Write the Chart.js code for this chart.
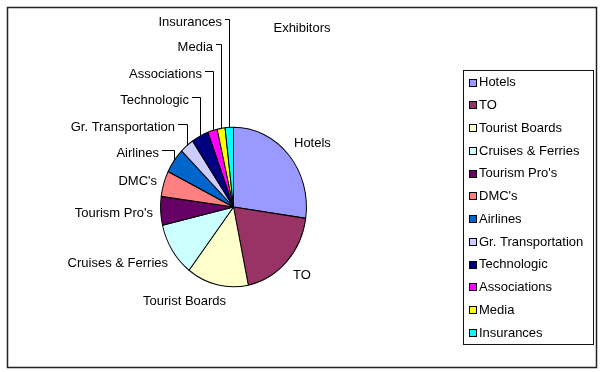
<!DOCTYPE html>
<html>
<head>
<meta charset="utf-8">
<script src="https://cdn.jsdelivr.net/npm/chart.js@4/dist/chart.umd.min.js"></script>
<style>
  html, body { margin: 0; padding: 0; background: #fff; }
  #wrap { width: 600px; height: 372px; }
</style>
</head>
<body>
<div id="wrap"><canvas id="myChart" width="600" height="372"></canvas></div>
<script>
const chartTitle = 'Exhibitors';
const labels = ['Hotels', 'TO', 'Tourist Boards', 'Cruises & Ferries', "Tourism Pro's", "DMC's",
  'Airlines', 'Gr. Transportation', 'Technologic', 'Associations', 'Media', 'Insurances'];
const shares = [27.3, 19.5, 13.7, 10.9, 5.8, 5.2, 5.1, 3.1, 3.8, 2.1, 1.75, 1.85];
const colors = ['#9999ff', '#993366', '#ffffcc', '#ccffff', '#660066', '#ff8080',
  '#0066cc', '#ccccff', '#000080', '#ff00ff', '#ffff00', '#00ffff'];

const FONT = '13px "Liberation Sans", Arial, sans-serif';

// where excel put the slice labels (text anchor, middle of the line)
const labelSpots = [
  { x: 294, y: 143, align: 'left' },
  { x: 293, y: 275, align: 'left' },
  { x: 143, y: 301, align: 'left' },
  { x: 168, y: 263, align: 'right' },
  { x: 153, y: 213, align: 'right' },
  { x: 157, y: 181, align: 'right' },
  { x: 159, y: 153, align: 'right', leader: true },
  { x: 175, y: 127, align: 'right', leader: true },
  { x: 189, y: 100, align: 'right', leader: true },
  { x: 202, y: 74, align: 'right', leader: true },
  { x: 213, y: 47, align: 'right', leader: true },
  { x: 222, y: 22, align: 'right', leader: true }
];

// pie in the original is a bit taller than wide
const squash = { sx: 0.96, sy: 1.05 };

const excelLook = {
  id: 'excelLook',
  beforeDraw(chart) {
    const c = chart.ctx;
    c.save();
    c.fillStyle = '#fff';
    c.fillRect(0, 0, chart.width, chart.height);
    c.strokeStyle = '#222';
    c.lineWidth = 1.5;
    c.strokeRect(7.5, 7.5, 589, 360);
    c.restore();
  },
  beforeDatasetsDraw(chart) {
    const arc = chart.getDatasetMeta(0).data[0];
    const c = chart.ctx;
    c.save();
    c.translate(arc.x, arc.y);
    c.scale(squash.sx, squash.sy);
    c.translate(-arc.x, -arc.y);
  },
  afterDatasetsDraw(chart) {
    const c = chart.ctx;
    c.restore();

    c.save();
    c.font = FONT;
    c.fillStyle = '#000';
    c.textBaseline = 'middle';

    // title
    c.textAlign = 'center';
    c.fillText(chartTitle, 302, 28);

    // slice labels + leader lines
    const arcs = chart.getDatasetMeta(0).data;
    arcs.forEach((a, i) => {
      const spot = labelSpots[i];
      c.textAlign = spot.align;
      c.fillText(labels[i], spot.x, spot.y);
      if (spot.leader) {
        const mid = (a.startAngle + a.endAngle) / 2;
        const ex = a.x + Math.cos(mid) * a.outerRadius * squash.sx;
        const ey = a.y + Math.sin(mid) * a.outerRadius * squash.sy;
        const ly = Math.round(spot.y - 3) + 0.5;
        c.strokeStyle = '#000';
        c.lineWidth = 1;
        c.beginPath();
        c.moveTo(spot.x + 3, ly);
        c.lineTo(Math.round(ex) + 0.5, ly);
        c.lineTo(Math.round(ex) + 0.5, ey);
        c.stroke();
      }
    });

    // legend box
    c.strokeStyle = '#111';
    c.lineWidth = 1;
    c.strokeRect(463.5, 70.5, 130, 274);
    c.textAlign = 'left';
    labels.forEach((lab, i) => {
      const y = 82.7 + i * 22.75;
      c.fillStyle = colors[i];
      c.fillRect(469, Math.round(y) - 4, 7, 7);
      c.strokeStyle = '#000';
      c.strokeRect(469.5, Math.round(y) - 3.5, 7, 7);
      c.fillStyle = '#000';
      c.fillText(lab, 479, y);
    });
    c.restore();
  }
};

const ctx = document.getElementById('myChart');
new Chart(ctx, {
  type: 'pie',
  data: {
    labels: labels,
    datasets: [{
      data: shares,
      backgroundColor: colors,
      borderColor: '#000',
      borderWidth: 1,
      radius: 76
    }]
  },
  options: {
    responsive: false,
    animation: false,
    layout: { padding: { left: 156, right: 289, top: 130, bottom: 88 } },
    plugins: {
      legend: { display: false },
      tooltip: { enabled: false }
    }
  },
  plugins: [excelLook]
});
</script>
</body>
</html>
